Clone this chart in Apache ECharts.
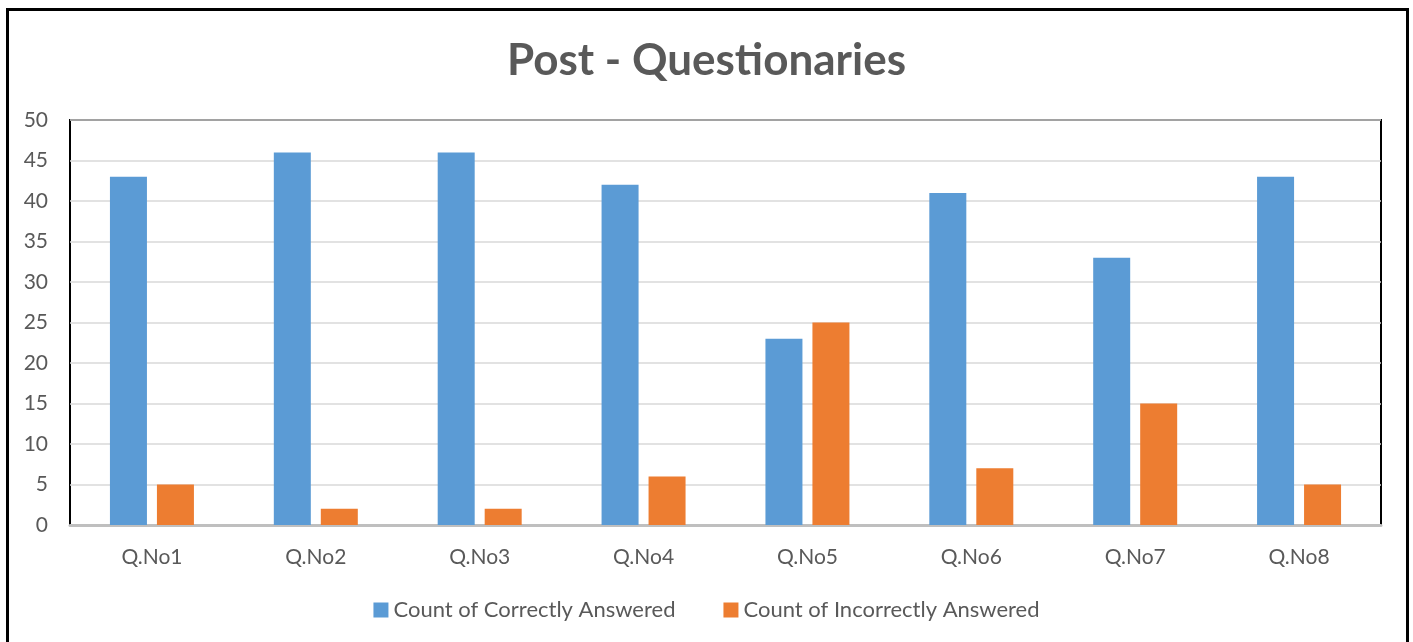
<!DOCTYPE html>
<html>
<head>
<meta charset="utf-8">
<script src="https://cdn.jsdelivr.net/npm/echarts@6/dist/echarts.min.js"></script>
<style>
html,body{margin:0;padding:0;background:#fff;}
#chart{width:1413px;height:642px;}
</style>
</head>
<body>
<div id="chart"></div>
<script>
const categories = ['Q.No1','Q.No2','Q.No3','Q.No4','Q.No5','Q.No6','Q.No7','Q.No8'];
const correct = [43, 46, 46, 42, 23, 41, 33, 43];
const incorrect = [5, 2, 2, 6, 25, 7, 15, 5];
const seriesNames = ['Count of Correctly Answered', 'Count of Incorrectly Answered'];
const titleText = 'Post - Questionaries';

const FONT = 'Lato, "Open Sans", sans-serif';
const chart = echarts.init(document.getElementById('chart'));
chart.setOption({
  animation: false,
  backgroundColor: '#fff',
  title: {
    text: titleText,
    left: 'center',
    top: 34,
    textStyle: {fontFamily: FONT, fontSize: 44, fontWeight: 'bold', color: '#595959'}
  },
  graphic: [{
    type: 'rect',
    shape: {x: 7.5, y: 9.5, width: 1400, height: 700},
    style: {fill: 'none', stroke: '#000', lineWidth: 3},
    z: 100
  }],
  legend: {
    data: seriesNames,
    top: 594,
    left: 'center',
    itemWidth: 15,
    itemHeight: 15,
    itemGap: 48,
    icon: 'rect',
    textStyle: {fontFamily: FONT, fontSize: 22, color: '#595959'}
  },
  grid: {
    left: 70, right: 32, top: 120, bottom: 117,
    show: true, borderColor: '#000', borderWidth: 2, backgroundColor: 'transparent'
  },
  xAxis: {
    type: 'category',
    data: categories,
    axisTick: {show: false},
    axisLine: {show: true, lineStyle: {color: '#bfbfbf', width: 3}},
    axisLabel: {fontFamily: FONT, fontSize: 21, color: '#595959', margin: 22}
  },
  yAxis: {
    type: 'value',
    min: 0, max: 50, interval: 5,
    axisLine: {show: false},
    axisTick: {show: false},
    splitLine: {lineStyle: {color: '#d9d9d9', width: 1.5}},
    axisLabel: {fontFamily: FONT, fontSize: 21, color: '#595959', margin: 22}
  },
  series: [
    {name: seriesNames[0], type: 'bar', data: correct, barWidth: 37, barGap: '27%',
     itemStyle: {color: '#5b9bd5'}},
    {name: seriesNames[1], type: 'bar', data: incorrect, barWidth: 37, barGap: '27%',
     itemStyle: {color: '#ed7d31'}}
  ]
});
</script>
</body>
</html>
